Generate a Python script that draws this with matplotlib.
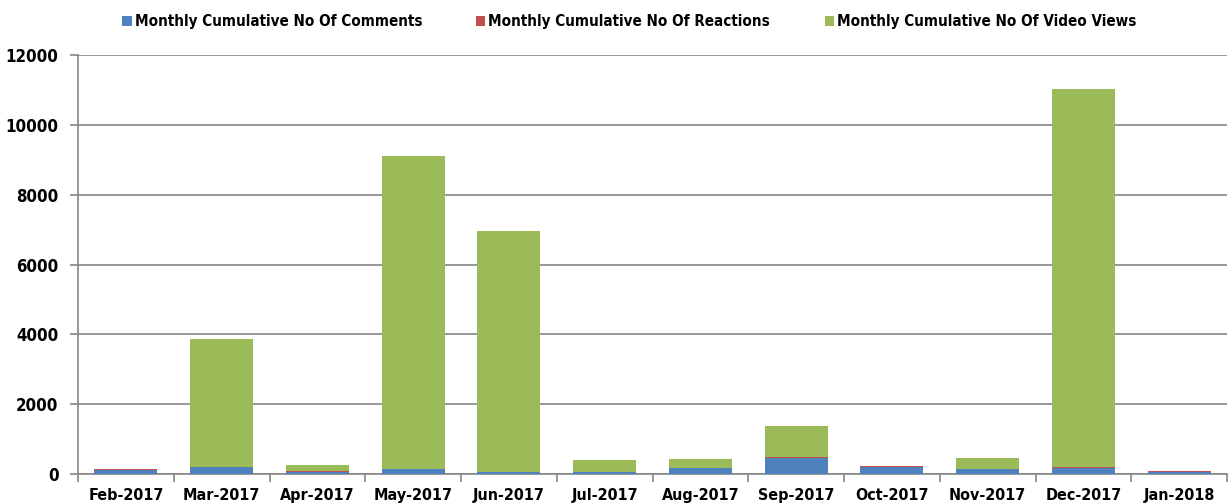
import matplotlib
matplotlib.use("Agg")
import matplotlib.pyplot as plt
from matplotlib import font_manager
from matplotlib.textpath import TextPath
from matplotlib.font_manager import FontProperties
import numpy as np

months = ["Feb-2017", "Mar-2017", "Apr-2017", "May-2017", "Jun-2017", "Jul-2017",
          "Aug-2017", "Sep-2017", "Oct-2017", "Nov-2017", "Dec-2017", "Jan-2018"]
comments = [125, 200, 70, 145, 60, 60, 172, 470, 200, 143, 183, 60]
reactions = [12, 10, 8, 10, 8, 8, 8, 15, 22, 10, 15, 12]
views = [0, 3660, 185, 8950, 6890, 325, 250, 880, 0, 300, 10830, 0]
series_names = ["Monthly Cumulative No Of Comments",
                "Monthly Cumulative No Of Reactions",
                "Monthly Cumulative No Of Video Views"]
yticks = [0, 2000, 4000, 6000, 8000, 10000, 12000]

fonts = font_manager.fontManager.ttflist
names = {f.name for f in fonts}
stretch = "normal"
if "Liberation Sans Narrow" in names:
    fam = ["Liberation Sans Narrow", "DejaVu Sans"]
elif any(f.name == "DejaVu Sans" and f.stretch in ("condensed", "semi-condensed", 500, 600) for f in fonts):
    fam = ["DejaVu Sans"]
    stretch = "condensed"
elif "Liberation Sans" in names:
    fam = ["Liberation Sans", "DejaVu Sans"]
else:
    fam = ["DejaVu Sans"]
plt.rcParams['font.family'] = fam
plt.rcParams['font.stretch'] = stretch


def width_px(s, size):
    fp = FontProperties(family=fam, weight="bold", stretch=stretch, size=size)
    tp = TextPath((0, 0), s, prop=fp)
    bb = tp.get_extents()
    return bb.width * 100 / 72.0

# choose sizes so text widths roughly match the reference
leg_size = min(12 * 285.0 / width_px(series_names[0], 12), 13)
tick_size = min(12 * 73.0 / width_px("Feb-2017", 12), 13)
ytick_size = min(12 * 50.0 / width_px("12000", 12), 13)

fig = plt.figure(figsize=(12.29, 5.04), dpi=100)
ax = fig.add_axes([78/1229, 1-474/504, (1227-78)/1229, (474-55)/504])

x = np.arange(len(months))
w = 0.66
c = np.array(comments); r = np.array(reactions); v = np.array(views)
ax.bar(x, c, w, color="#4F81BD", label=series_names[0], zorder=3)
ax.bar(x, r, w, bottom=c, color="#C0504D", label=series_names[1], zorder=3)
ax.bar(x, v, w, bottom=c + r, color="#9BBB59", label=series_names[2], zorder=3)

ax.set_xlim(-0.5, len(months) - 0.5)
ax.set_ylim(0, 12000)
ax.set_yticks(yticks)
ax.set_yticklabels([str(t) for t in yticks], fontsize=ytick_size, fontweight="bold")
ax.yaxis.grid(True, color="#868686", linewidth=1.2, zorder=0)
ax.set_axisbelow(True)

ax.set_xticks(x)
ax.set_xticklabels(months, fontsize=tick_size, fontweight="bold")
ax.tick_params(axis="x", which="major", length=0, pad=10)
ax.set_xticks(np.arange(-0.5, len(months) + 0.5, 1), minor=True)
ax.tick_params(axis="x", which="minor", length=6, color="#868686", width=1.2)
ax.tick_params(axis="y", length=6, color="#868686", width=1.2, pad=8)

for s in ["top", "right"]:
    ax.spines[s].set_visible(False)
for s in ["left", "bottom"]:
    ax.spines[s].set_color("#868686")
    ax.spines[s].set_linewidth(1.2)

leg = fig.legend(loc="upper center", bbox_to_anchor=(0.512, 1.0), ncol=3, frameon=False,
                 prop={"size": leg_size, "weight": "bold"}, handlelength=0.6, handleheight=0.6,
                 handletextpad=0.2, columnspacing=3.6, borderaxespad=0.55)

fig.savefig("out.png", dpi=100)
